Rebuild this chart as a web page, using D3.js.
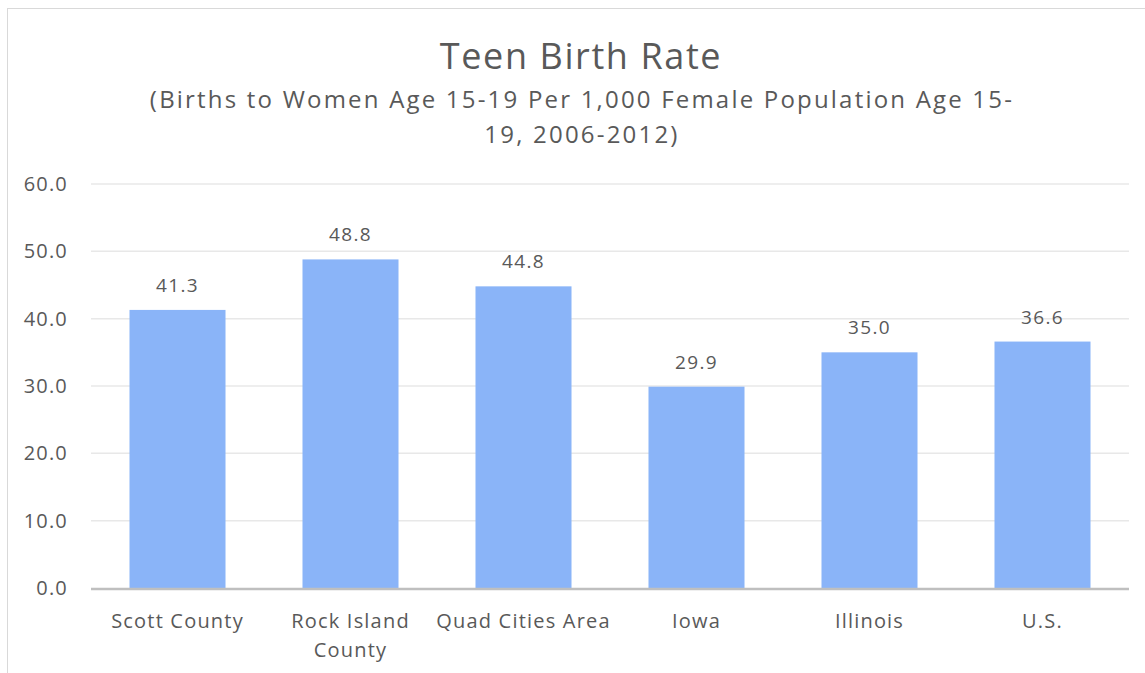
<!DOCTYPE html>
<html>
<head>
<meta charset="utf-8">
<script src="https://cdn.jsdelivr.net/npm/d3@7"></script>
<style>
  body { margin: 0; background: #fff; }
  text { font-family: "Open Sans", "Noto Sans", sans-serif; fill: #595959; }
</style>
</head>
<body>
<svg id="chart"></svg>
<script>
// chart data
const categories = ["Scott County", "Rock Island County", "Quad Cities Area", "Iowa", "Illinois", "U.S."];
const rates = [41.3, 48.8, 44.8, 29.9, 35.0, 36.6];
const yTicks = [0, 10, 20, 30, 40, 50, 60];
const titleText = "Teen Birth Rate";
const subtitleLines = ["(Births to Women Age 15-19 Per 1,000 Female Population Age 15-", "19, 2006-2012)"];
// wrapped category labels
const categoryLines = [["Scott County"], ["Rock Island", "County"], ["Quad Cities Area"], ["Iowa"], ["Illinois"], ["U.S."]];

const W = 1145, H = 673;
const margin = { top: 184, right: 16, bottom: 85, left: 91 },
  width = 1129 - margin.left,
  height = 588 - margin.top;

const svg = d3.select("#chart")
    .attr("width", W)
    .attr("height", H);

// outer chart border
svg.append("rect")
    .attr("x", 7.5)
    .attr("y", 8.5)
    .attr("width", W + 10)
    .attr("height", H + 10)
    .attr("fill", "none")
    .attr("stroke", "#d9d9d9");

// title + subtitle
svg.append("text")
    .attr("x", 581)
    .attr("y", 69)
    .attr("text-anchor", "middle")
    .style("font-size", "36px")
    .style("letter-spacing", "1.6px")
    .text(titleText);

svg.selectAll(".subtitle")
  .data(subtitleLines)
  .join("text")
    .attr("class", "subtitle")
    .attr("x", 582)
    .attr("y", (d, i) => 108 + i * 35)
    .attr("text-anchor", "middle")
    .style("font-size", "24px")
    .style("letter-spacing", "2.2px")
    .text(d => d);

const g = svg.append("g")
    .attr("transform", "translate(" + margin.left + "," + margin.top + ")");

// scales
const x = d3.scaleBand()
    .domain(categories)
    .range([0, width])
    .paddingInner(0.445)
    .paddingOuter(0.2225);

const y = d3.scaleLinear()
    .domain([0, 60])
    .range([height, 0]);

// gridlines
g.append("g")
  .selectAll("line")
  .data(yTicks.filter(d => d > 0))
  .join("line")
    .attr("x1", 0)
    .attr("x2", width)
    .attr("y1", d => y(d))
    .attr("y2", d => y(d))
    .attr("stroke", "#e8e8e8")
    .attr("stroke-width", 1.5);

// y axis labels
const yAxis = g.append("g")
    .call(d3.axisLeft(y).tickValues(yTicks).tickFormat(d3.format(".1f")).tickSize(0).tickPadding(23));
yAxis.select(".domain").remove();
yAxis.selectAll("text")
    .style("font-size", "20px")
    .style("letter-spacing", "1.2px")
    .style("font-family", "\"Open Sans\", sans-serif")
    .attr("fill", "#595959");

// bars
g.append("g")
  .selectAll("rect")
  .data(rates)
  .join("rect")
    .attr("x", (d, i) => x(categories[i]))
    .attr("y", d => y(d))
    .attr("width", x.bandwidth())
    .attr("height", d => height - y(d))
    .attr("fill", "#8ab4f8");

// value labels
g.append("g")
  .selectAll("text")
  .data(rates)
  .join("text")
    .attr("x", (d, i) => x(categories[i]) + x.bandwidth() / 2)
    .attr("y", d => y(d) - 18)
    .attr("text-anchor", "middle")
    .style("font-size", "19px")
    .style("letter-spacing", "1.3px")
    .text(d => d3.format(".1f")(d));

// baseline
g.append("line")
    .attr("x1", 0)
    .attr("x2", width)
    .attr("y1", height + 1)
    .attr("y2", height + 1)
    .attr("stroke", "#bfbfbf")
    .attr("stroke-width", 2.5);

// category labels
const catGroup = g.append("g")
  .selectAll("text")
  .data(categories)
  .join("text")
    .attr("text-anchor", "middle")
    .attr("transform", d => "translate(" + (x(d) + x.bandwidth() / 2) + "," + (height + 40) + ")")
    .style("font-size", "20px")
    .style("letter-spacing", "1.2px");

catGroup.selectAll("tspan")
  .data((d, i) => categoryLines[i])
  .join("tspan")
    .attr("x", 0)
    .attr("dy", (d, i) => i === 0 ? 0 : 29)
    .text(d => d);
</script>
</body>
</html>
